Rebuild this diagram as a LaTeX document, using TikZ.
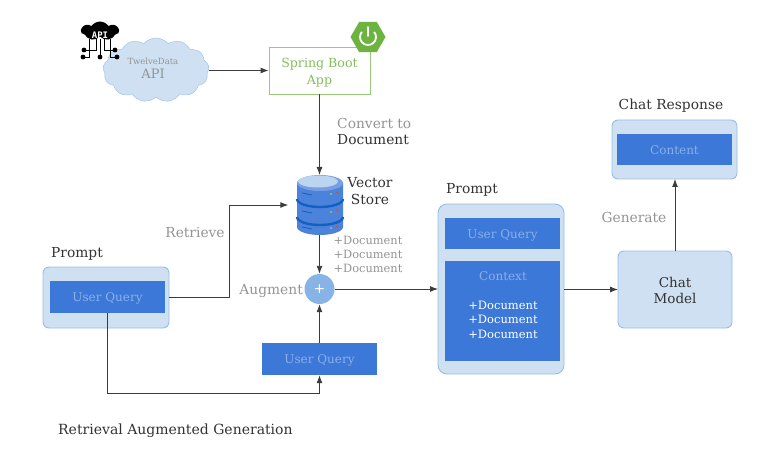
\documentclass[tikz,border=0pt]{standalone}
\usepackage{fontspec}
\setmainfont{DejaVu Serif}
\setmonofont{DejaVu Sans Mono}
\usetikzlibrary{shapes.symbols,shapes.geometric,positioning,arrows.meta}
\tikzset{>={Latex[length=8pt,width=6pt]}}
\definecolor{mypale}{RGB}{207,224,242}
\definecolor{myedge}{RGB}{150,190,232}
\definecolor{myblue}{RGB}{60,120,216}
\definecolor{myband}{RGB}{20,95,195}
\definecolor{myfaint}{RGB}{140,175,232}
\definecolor{mygreen}{RGB}{109,179,63}
\definecolor{mygrey}{RGB}{148,148,148}
\definecolor{mydark}{RGB}{50,50,50}
\definecolor{myline}{RGB}{60,60,60}
\tikzset{
  outerbox/.style={draw=myedge,fill=mypale,line width=0.9pt,rounded corners=6pt,anchor=north west,inner sep=0pt,outer sep=0pt},
  innerbox/.style={fill=myblue,text=myfaint,font=\fontsize{12}{14}\selectfont,inner sep=0pt,text height=11pt,text depth=1.4pt,minimum width=115pt,minimum height=32pt},
  greylabel/.style={text=mygrey,font=\fontsize{13.8}{17}\selectfont,align=center,inner sep=0pt},
  darklabel/.style={text=mydark,font=\fontsize{13.8}{17}\selectfont,align=center,inner sep=0pt},
  doclabel/.style={text=mygrey,font=\fontsize{11.4}{14.4}\selectfont,align=center,inner sep=0pt},
  conn/.style={->,draw=myline,line width=0.9pt},
}
\begin{document}
\begin{tikzpicture}[x=1pt,y=-1pt]
  \useasboundingbox (0,0) rectangle (775,454);

  % api cloud
  \node[cloud,cloud puffs=13,cloud puff arc=100,cloud ignores aspect,draw=myedge,fill=mypale,minimum width=106pt,minimum height=64pt,inner sep=0pt] (cloud) at (156,70) {};
  \node[text=mygrey,align=center,inner sep=0pt] (cloudlabel) at (153,68.5)
    {\fontsize{8.5}{12}\selectfont TwelveData\\[2.5pt]\fontsize{13}{13}\selectfont API};

  % api icon
  \draw[line width=0.8pt] (96,39) -- (96,50) -- (84,50);
  \draw[line width=0.8pt] (89,39) -- (89,57) -- (83,57);
  \draw[line width=0.8pt] (100,39) -- (100,57);
  \draw[line width=0.8pt] (104,39) -- (104,50) -- (115,50);
  \draw[line width=0.8pt] (110,39) -- (110,57) -- (117,57);
  \foreach \dx/\dy in {84/50,83/57,100/57,115/50,117/57}
    \fill (\dx,\dy) circle (2.4);
  \node[cloud,cloud puffs=7,cloud puff arc=110,cloud ignores aspect,fill=black,minimum width=38pt,minimum height=19pt,inner sep=0pt] (icon) at (100,31) {};
  \node[text=white,inner sep=0pt,font=\ttfamily\bfseries\fontsize{9}{9}\selectfont] (iconlabel) at (100,35) {API};

  % spring boot
  \node[draw=mygreen!70,line width=0.9pt,minimum width=101pt,minimum height=47pt,inner sep=0pt] (spring) at (319.5,70.5) {};
  \node[text=mygreen!85,align=center,inner sep=0pt,font=\fontsize{12.6}{17}\selectfont] (springlabel) at (319.5,72.5) {Spring Boot\\App};
  \node[regular polygon,regular polygon sides=6,fill=mygreen,minimum size=35pt,inner sep=0pt] (logo) at (368,37) {};
  \draw[white,line width=1.8pt] (368,37) ++(-40:8) arc (-40:220:8);
  \draw[white,line width=1.8pt,line cap=round] (368,27) -- (368,36);

  \node[greylabel,anchor=west] (convert) at (337,123) {Convert to};
  \node[darklabel,anchor=west] (document) at (337,140) {Document};

  % vector store
  \node[minimum width=62pt,minimum height=60pt,inner sep=0pt] (store) at (319.5,205) {};
  \fill[myblue!92!white] (297,183) -- (297,227) arc (180:0:23 and 8) -- (343,183) -- cycle;
  \foreach \by in {199,217}
    \draw[myband,line width=2.4pt] (297,\by) arc (180:0:23 and 8);
  \fill[myblue!70!white] (320,183) ellipse (23 and 8);
  \fill[myedge!65!white] (318,181.5) ellipse (20 and 6);
  \foreach \by in {196,214,230} {
    \draw[myband,line width=0.8pt] (302,\by-3) -- (312,\by-1);
    \fill[yellow!70!gray] (331,\by-2) circle (0.9);
    \fill[red!50!orange] (337,\by-3.5) circle (0.9);
  }
  \node[darklabel] (vectorlabel) at (370,191) {Vector\\Store};
  \node[doclabel] (storedocs) at (368,254.5) {+Document\\+Document\\+Document};

  % augment
  \node[circle,fill=myedge!85!myblue,text=white,minimum size=30pt,inner sep=0pt,font=\fontsize{14}{14}\selectfont] (plus) at (319.5,289) {+};
  \node[greylabel,anchor=east] (augment) at (303,291) {Augment};

  % left prompt
  \node[outerbox,minimum width=126pt,minimum height=61pt] (promptA) at (43,267) {};
  \node[innerbox] (queryA) at (107.5,297) {User Query};
  \node[darklabel,anchor=west] (promptAlabel) at (51,254) {Prompt};
  \node[innerbox] (queryB) at (319.5,359) {User Query};
  \node[greylabel] (retrieve) at (195,233) {Retrieve};
  \node[darklabel,anchor=west,font=\fontsize{14}{14}\selectfont] (title) at (58,430.5) {Retrieval Augmented Generation};

  % right prompt
  \node[outerbox,rounded corners=9pt,minimum width=126pt,minimum height=170pt] (promptB) at (438,204) {};
  \node[innerbox,minimum height=31pt] (queryC) at (502.5,233.5) {User Query};
  \node[innerbox,minimum height=100pt] (context) at (502.5,311) {};
  \node[text=myfaint,font=\fontsize{12}{14}\selectfont,inner sep=0pt] (contextlabel) at (503,276) {Context};
  \node[text=white,align=center,font=\fontsize{11.5}{14.5}\selectfont,inner sep=0pt] (contextdocs) at (503,319.5) {+Document\\+Document\\+Document};
  \node[darklabel,anchor=west] (promptBlabel) at (446,190) {Prompt};

  % chat model and response
  \node[outerbox,minimum width=114pt,minimum height=77pt] (model) at (618,251) {};
  \node[text=mydark,align=center,font=\fontsize{13.5}{16}\selectfont,inner sep=0pt] (modellabel) at (675,290.5) {Chat\\Model};
  \node[outerbox,minimum width=125pt,minimum height=59pt] (response) at (612,120) {};
  \node[innerbox,minimum height=31pt] (content) at (674.5,149.5) {Content};
  \node[darklabel] (responselabel) at (671,106) {Chat Response};
  \node[greylabel] (generate) at (634,217) {Generate};

  % arrows
  \coordinate (bendA) at (229,297);
  \coordinate (bendB) at (107.5,393);
  \draw[conn] (cloud.east |- spring.west) -- (spring.west);
  \draw[conn] (spring.south) -- (319.5,175);
  \draw[conn] (promptA.east) -- (promptA.east -| bendA) |- (store.west);
  \draw[conn] (store.south) -- (plus.north);
  \draw[conn] (queryA.south) -- (bendB) -| (queryB.south);
  \draw[conn] (queryB.north) -- (plus.south);
  \draw[conn] (plus.east) -- (promptB.west |- plus.east);
  \draw[conn] (promptB.east |- model.west) -- (model.west);
  \draw[conn] (model.north) -- (model.north |- response.south);

\end{tikzpicture}
\end{document}
